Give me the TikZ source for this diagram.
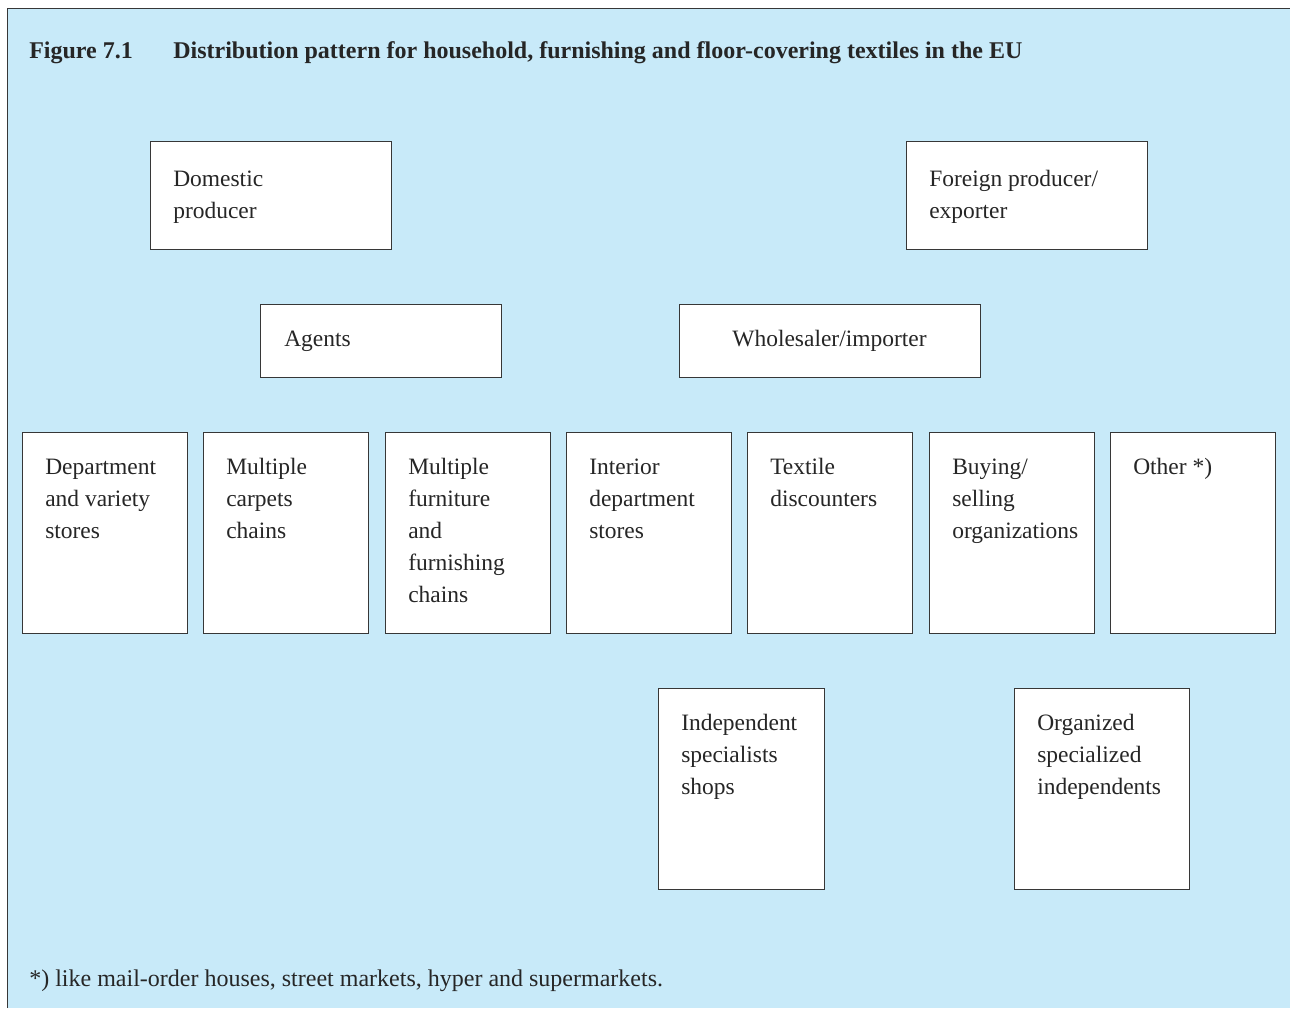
\documentclass[tikz,border=0pt]{standalone}
\usepackage{fontspec}
\setmainfont{Liberation Serif}
\definecolor{panel}{RGB}{200,234,249}
\definecolor{edge}{RGB}{55,55,55}
\begin{document}
\begin{tikzpicture}[x=0.75pt,y=-0.75pt,
  box/.style 2 args={draw=edge,line width=0.65pt,fill=white,anchor=north west,inner sep=0pt,outer sep=0pt,
    minimum width=#1*0.75pt,minimum height=#2*0.75pt},
  txt/.style={anchor=base west,align=left,inner sep=0pt,font=\fontsize{17.6pt}{24pt}\selectfont,text=black!85},
  ttl/.style={txt,font=\bfseries\fontsize{18pt}{24pt}\selectfont}]
\useasboundingbox (0,0) rectangle (1290,1008);
\fill[white] (0,0) rectangle (1290,1008);
\fill[panel] (7,8) rectangle (1290,1008);
\draw[edge,line width=0.7pt] (7,1008) -- (7,8) -- (1290,8);
\node[ttl] (fig) at (29,58) {Figure 7.1};
\node[ttl] (title) at (173,58) {Distribution pattern for household, furnishing and floor-covering textiles in the EU};
% top row
\node[box={241}{108}] (dom) at (150,141) {};
\node[txt] (domt) at (173,218) {Domestic\\producer};
\node[box={241}{108}] (for) at (906,141) {};
\node[txt] (fort) at (929,218) {Foreign producer/\\exporter};
% second row
\node[box={241}{73}] (ag) at (260,304) {};
\node[txt] (agt) at (284,346) {Agents};
\node[box={301}{73}] (wh) at (679,304) {};
\node[txt,anchor=base] (wht) at (829.5,346) {Wholesaler/importer};
% third row
\node[box={165}{201}] (r1) at (22,432) {};
\node[txt] (r1t) at (45,538) {Department\\and variety\\stores};
\node[box={165}{201}] (r2) at (203,432) {};
\node[txt] (r2t) at (226,538) {Multiple\\carpets\\chains};
\node[box={165}{201}] (r3) at (385,432) {};
\node[txt] (r3t) at (408,602) {Multiple\\furniture\\and\\furnishing\\chains};
\node[box={165}{201}] (r4) at (566,432) {};
\node[txt] (r4t) at (589,538) {Interior\\department\\stores};
\node[box={165}{201}] (r5) at (747,432) {};
\node[txt] (r5t) at (770,506) {Textile\\discounters};
\node[box={165}{201}] (r6) at (929,432) {};
\node[txt] (r6t) at (952,538) {Buying/\\selling\\organizations};
\node[box={165}{201}] (r7) at (1110,432) {};
\node[txt] (r7t) at (1133,474) {Other *)};
% bottom row
\node[box={166}{201}] (ind) at (658,688) {};
\node[txt] (indt) at (681,794) {Independent\\specialists\\shops};
\node[box={175}{201}] (org) at (1014,688) {};
\node[txt] (orgt) at (1037,794) {Organized\\specialized\\independents};
% footnote
\node[txt,font=\fontsize{18pt}{24pt}\selectfont] (foot) at (29,986) {*) like mail-order houses, street markets, hyper and supermarkets.};
\end{tikzpicture}
\end{document}
